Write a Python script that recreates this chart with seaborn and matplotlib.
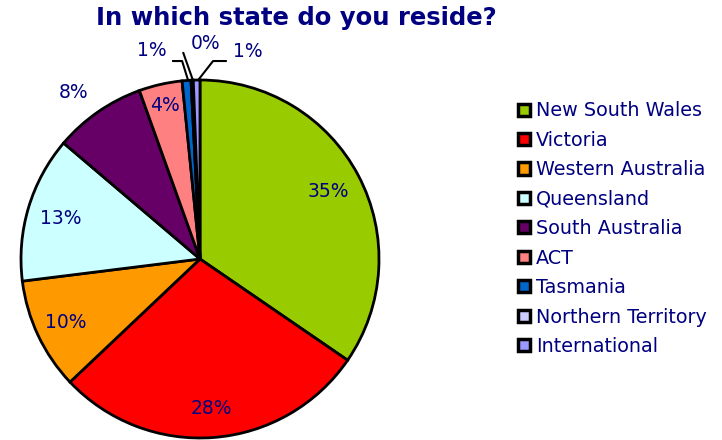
import matplotlib.pyplot as plt
import seaborn as sns
import numpy as np

states = ['New South Wales', 'Victoria', 'Western Australia', 'Queensland',
          'South Australia', 'ACT', 'Tasmania', 'Northern Territory', 'International']
share = [34.6, 28.4, 10.1, 13.2, 8.3, 3.9, 0.8, 0.2, 0.6]
pct_labels = ['35%', '28%', '10%', '13%', '8%', '4%', '1%', '0%', '1%']
colors = ['#99CC00', '#FF0000', '#FF9900', '#CCFFFF', '#660066',
          '#FF8080', '#0066CC', '#CCCCFF', '#9999FF']

NAVY = '#000080'

sns.set_style('white')
plt.rcParams['font.family'] = ['DejaVu Sans']

fig = plt.figure(figsize=(7.22, 4.4), dpi=100)
# pie centre ~ (200, 259) px, radius ~ 179 px
ax = fig.add_axes([21 / 722, 2 / 440, 358 / 722, 358 / 440])

wedges, _ = ax.pie(share, colors=sns.color_palette(colors), startangle=90,
                   counterclock=False,
                   wedgeprops=dict(edgecolor='black', linewidth=2))
for w in wedges:
    w.set_clip_on(False)
ax.set_xlim(-1, 1)
ax.set_ylim(-1, 1)
ax.set_aspect('equal')
ax.axis('off')

# label radius (fraction of pie radius) and angle nudge (deg) for the larger slices
radii = [0.81, 0.84, 0.83, 0.81, 1.17, 0.88]
nudge = [0, 0, 0, 0.5, 2.5, 0]
for w, lab, r, dt in zip(wedges, pct_labels, radii, nudge):
    mid = np.deg2rad((w.theta1 + w.theta2) / 2 + dt)
    ax.text(r * np.cos(mid), r * np.sin(mid), lab, ha='center', va='center',
            fontsize=13.5, color=NAVY)

# small slices at the top get leader lines: label xy, leader points
small = [(6, (-0.27, 1.165), [(-0.067, 1.0), (-0.10, 1.106), (-0.156, 1.106)]),
         (7, (0.03, 1.205), [(-0.04, 1.0), (-0.095, 1.156)]),
         (8, (0.265, 1.158), [(-0.01, 1.0), (0.073, 1.106), (0.15, 1.106)])]
for idx, txt_xy, pts in small:
    xs, ys = zip(*pts)
    ax.plot(xs, ys, color='black', lw=1.5, clip_on=False, solid_capstyle='butt')
    ax.text(txt_xy[0], txt_xy[1], pct_labels[idx], ha='center', va='center',
            fontsize=13.5, color=NAVY)

fig.text(0.411, 0.958, 'In which state do you reside?', ha='center', va='center',
         fontsize=17.5, fontweight='bold', color=NAVY)

leg = fig.legend(wedges, states, loc='upper left', bbox_to_anchor=(0.707, 0.787),
                 frameon=False, fontsize=13.8, handlelength=0.6, handleheight=0.6,
                 handletextpad=0.35, labelspacing=0.545, borderaxespad=0)
for t in leg.get_texts():
    t.set_color(NAVY)
for h in leg.legend_handles:
    h.set_linewidth(2.5)

fig.savefig('out.png', dpi=100)
